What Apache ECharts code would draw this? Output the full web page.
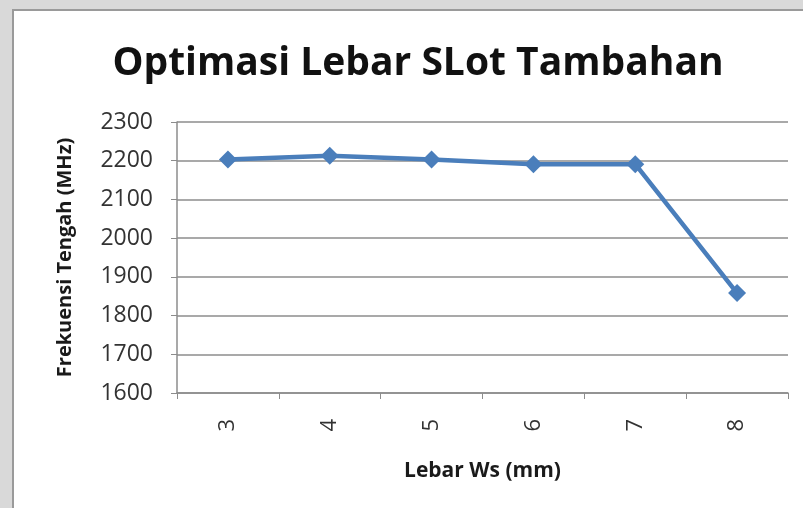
<!DOCTYPE html>
<html>
<head>
<meta charset="utf-8">
<script src="https://cdn.jsdelivr.net/npm/echarts@6/dist/echarts.min.js"></script>
<style>
  html, body { margin: 0; padding: 0; background: #d9d9d9; }
  #main { width: 803px; height: 508px; }
</style>
</head>
<body>
<div id="main"></div>
<script>
// data
var categories = ['3', '4', '5', '6', '7', '8'];
var frekuensi = [2203, 2213, 2203, 2191, 2191, 1858];
var yMin = 1600, yMax = 2300, yStep = 100;

var chart = echarts.init(document.getElementById('main'));

var option = {
    backgroundColor: '#d9d9d9',
    animation: false,
    graphic: [{
        type: 'rect',
        z: -10,
        shape: { x: 13, y: 10, width: 800, height: 510 },
        style: { fill: '#ffffff', stroke: '#9a9a9a', lineWidth: 2 }
    }],
    title: {
        text: 'Optimasi Lebar SLot Tambahan',
        left: 413,
        top: 39,
        textAlign: 'center',
        textStyle: {
            fontFamily: 'Open Sans',
            fontWeight: 'bold',
            fontSize: 39,
            color: '#111111'
        }
    },
    grid: { left: 177, top: 122, right: 15, bottom: 115, containLabel: false },
    xAxis: {
        type: 'category',
        data: categories,
        boundaryGap: true,
        name: 'Lebar Ws (mm)',
        nameLocation: 'middle',
        nameGap: 68,
        nameTextStyle: { fontFamily: 'Open Sans', fontWeight: 'bold', fontSize: 21, color: '#1a1a1a' },
        axisLine: { lineStyle: { color: '#8c8c8c', width: 1.5 } },
        axisTick: { show: true, alignWithLabel: false, length: 6, lineStyle: { color: '#8c8c8c' } },
        axisLabel: { rotate: 90, margin: 26, fontFamily: 'Open Sans', fontSize: 22, color: '#333333' },
        splitLine: { show: false }
    },
    yAxis: {
        type: 'value',
        min: yMin,
        max: yMax,
        interval: yStep,
        name: 'Frekuensi Tengah (MHz)',
        nameLocation: 'middle',
        nameGap: 102,
        nameTextStyle: { fontFamily: 'Open Sans', fontWeight: 'bold', fontSize: 20, color: '#1a1a1a' },
        axisLine: { show: true, lineStyle: { color: '#8c8c8c', width: 1.5 } },
        axisTick: { show: true, length: 6, lineStyle: { color: '#8c8c8c' } },
        axisLabel: {
            margin: 24, fontFamily: 'Open Sans', fontSize: 23, color: '#333333',
            formatter: function (v) { return String(v); }
        },
        splitLine: { lineStyle: { color: '#8c8c8c', width: 1.5 } }
    },
    series: [{
        type: 'line',
        data: frekuensi,
        symbol: 'diamond',
        symbolSize: 18,
        lineStyle: { color: '#4a7ebb', width: 4.5 },
        itemStyle: { color: '#4a7ebb' }
    }]
};

chart.setOption(option);
</script>
</body>
</html>
